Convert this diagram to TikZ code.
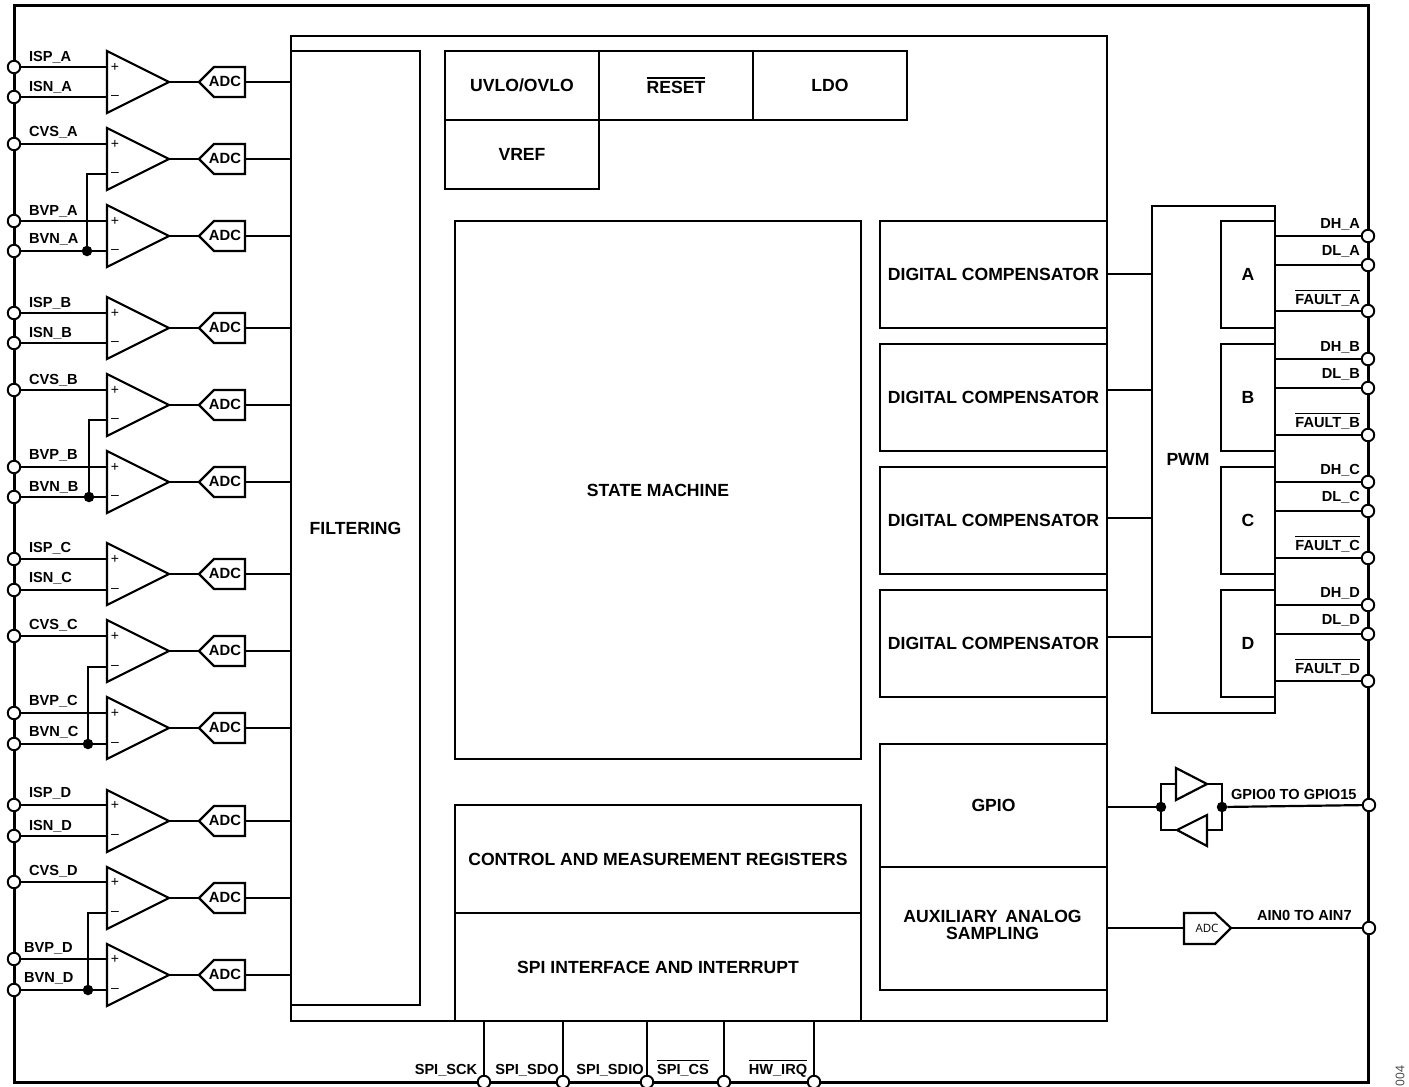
\documentclass[tikz,border=0pt]{standalone}
\usepackage{fontspec}
\setmainfont{Liberation Sans}
\newfontfamily\thinfont{Open Sans}
\newcommand{\ovl}[1]{\vbox{\hrule height 1.3pt\kern 2.6pt\hbox{#1}}}
\tikzset{
  every path/.style={line join=miter},
  framebox/.style={draw=black,line width=2.4pt,inner sep=0pt,outer sep=0pt},
  blockbox/.style={draw=black,line width=2.2pt,inner sep=0pt,outer sep=0pt,font=\fontsize{17.6}{17}\selectfont\bfseries,align=center},
  pin/.style={circle,draw=black,fill=white,line width=1.9pt,minimum size=12.5pt,inner sep=0pt,outer sep=0pt},
  dot/.style={circle,fill=black,draw=none,minimum size=10.5pt,inner sep=0pt,outer sep=0pt},
  sig/.style={font=\fontsize{14.6}{15}\selectfont\bfseries,inner sep=0pt,outer sep=0pt},
  adctext/.style={font=\fontsize{14.8}{15}\selectfont\bfseries,inner sep=0pt},
  sign/.style={font=\fontsize{14}{14}\selectfont,inner sep=0pt},
  wire/.style={draw=black,line width=2.2pt},
  thick frame/.style={draw=black,line width=3pt}
}
% \blockat{name}{x1}{y1}{x2}{y2}{text}
\newcommand{\blockat}[6]{\node[blockbox,minimum width={(#4-#2)*1pt},minimum height={(#5-#3)*1pt}] (#1) at ({(#2+#4)/2},{(#3+#5)/2}) {#6};}
% \amprow{id}{y}{plus y}{minus y}
\newcommand{\amprow}[4]{%
  \coordinate (#1p) at (107,#3);
  \coordinate (#1m) at (107,#4);
  \coordinate (#1t) at (169,#2);
  \coordinate (#1a) at (199,#2);
  \draw[wire,fill=white] (107,{#2-31}) -- (#1t) -- (107,{#2+31}) -- cycle;
  \node[sign] (#1plus) at (115,#3) {+};
  \node[sign] (#1minus) at (115,#4) {--};
  \draw[wire] (#1a) -- (214,{#2-15}) -- (245,{#2-15}) -- (245,{#2+15}) -- (214,{#2+15}) -- cycle;
  \node[adctext] (#1adc) at (225,{#2-1}) {ADC};
  \draw[wire] (#1t) -- (#1a);
  \draw[wire] (245,#2) -- (filter.west |- 0,#2);
}
\begin{document}
\begin{tikzpicture}[x=1pt,y=-1pt]
\useasboundingbox (0,0) rectangle (1409,1087);
\fill[white] (0,0) rectangle (1409,1087);

% frames
\node[framebox,thick frame,minimum width=1354pt,minimum height=1077pt] (outer) at (691,543.5) {};
\node[framebox,minimum width=816pt,minimum height=985pt] (core) at (699,528.5) {};

% blocks
\blockat{filter}{291}{51}{420}{1005}{FILTERING}
\blockat{uvlo}{445}{51}{599}{120}{UVLO/OVLO}
\blockat{reset}{599}{51}{753}{120}{\ovl{RESET}}
\blockat{ldo}{753}{51}{907}{120}{LDO}
\blockat{vref}{445}{120}{599}{189}{VREF}
\blockat{state}{455}{221}{861}{759}{STATE MACHINE}
\blockat{regs}{455}{805}{861}{913}{CONTROL AND MEASUREMENT REGISTERS}
\blockat{spi}{455}{913}{861}{1021}{SPI INTERFACE AND INTERRUPT}
\blockat{compa}{880}{221}{1107}{328}{DIGITAL COMPENSATOR}
\blockat{compb}{880}{344}{1107}{451}{DIGITAL COMPENSATOR}
\blockat{compc}{880}{467}{1107}{574}{DIGITAL COMPENSATOR}
\blockat{compd}{880}{590}{1107}{697}{DIGITAL COMPENSATOR}
\blockat{gpio}{880}{744}{1107}{867}{GPIO}
\blockat{aux}{880}{867}{1107}{990}{}
\node[font=\fontsize{17.6}{17.3}\selectfont\bfseries,align=center,inner sep=0pt] (auxtext) at (992.5,925) {AUXILIARY\, ANALOG\\SAMPLING};
\blockat{pwm}{1152}{206}{1275}{713}{}
\node[font=\fontsize{17.6}{17}\selectfont\bfseries,inner sep=0pt] (pwmtext) at (1188,459) {PWM};
\blockat{cha}{1221}{221}{1275}{328}{A}
\blockat{chb}{1221}{344}{1275}{451}{B}
\blockat{chc}{1221}{467}{1275}{574}{C}
\blockat{chd}{1221}{590}{1275}{697}{D}

% compensator to PWM
\draw[wire] (compa.east |- 0,274) -- (pwm.west |- 0,274);
\draw[wire] (compb.east |- 0,390) -- (pwm.west |- 0,390);
\draw[wire] (compc.east |- 0,518) -- (pwm.west |- 0,518);
\draw[wire] (compd.east |- 0,637) -- (pwm.west |- 0,637);

% amplifiers with ADC
\amprow{a1}{82}{67}{97}
\amprow{a2}{159}{144}{174}
\amprow{a3}{236}{221}{251}
\amprow{b1}{328}{313}{343}
\amprow{b2}{405}{390}{420}
\amprow{b3}{482}{467}{497}
\amprow{c1}{574}{559}{590}
\amprow{c2}{651}{636}{667}
\amprow{c3}{728}{713}{744}
\amprow{d1}{821}{805}{836}
\amprow{d2}{898}{882}{913}
\amprow{d3}{975}{959}{990}

% left pins: name/target/pin y/label x/baseline/text
\foreach \n/\t/\y/\lx/\b/\s in {
  ISPA/a1p/67/29/61/ISP\_A, ISNA/a1m/97/29/91/ISN\_A, CVSA/a2p/144/29/136/CVS\_A, BVPA/a3p/221/29/215/BVP\_A, BVNA/a3m/251/29/243/BVN\_A,
  ISPB/b1p/313/29/307/ISP\_B, ISNB/b1m/343/29/337/ISN\_B, CVSB/b2p/390/29/384/CVS\_B, BVPB/b3p/467/29/459/BVP\_B, BVNB/b3m/497/29/491/BVN\_B,
  ISPC/c1p/559/29/552/ISP\_C, ISNC/c1m/590/29/582/ISN\_C, CVSC/c2p/636/29/629/CVS\_C, BVPC/c3p/713/29/705/BVP\_C, BVNC/c3m/744/29/736/BVN\_C,
  ISPD/d1p/805/29/797/ISP\_D, ISND/d1m/836/29/830/ISN\_D, CVSD/d2p/882/29/875/CVS\_D, BVPD/d3p/959/24/952/BVP\_D, BVND/d3m/990/24/982/BVN\_D}{
  \node[pin] (pin\n) at (14,\y) {};
  \draw[wire] (pin\n) -- (\t);
  \node[sig,anchor=base west] (lab\n) at (\lx,\b) {\s};
}

% shared inverting input
\foreach \j/\x/\y/\t in {ja/87/251/a2m, jb/89/497/b2m, jc/88/744/c2m, jd/88/990/d2m}{
  \node[dot] (\j) at (\x,\y) {};
  \draw[wire] (\j) |- (\t);
}

% right pins
\foreach \n/\c/\y/\b/\s in {
  DHA/cha/236/228/DH\_A, DLA/cha/265/255/DL\_A, FLA/cha/311/304/\ovl{FAULT\_A},
  DHB/chb/359/351/DH\_B, DLB/chb/388/378/DL\_B, FLB/chb/435/427/\ovl{FAULT\_B},
  DHC/chc/482/474/DH\_C, DLC/chc/511/501/DL\_C, FLC/chc/558/550/\ovl{FAULT\_C},
  DHD/chd/605/597/DH\_D, DLD/chd/634/624/DL\_D, FLD/chd/681/673/\ovl{FAULT\_D}}{
  \node[pin] (pin\n) at (1368,\y) {};
  \draw[wire] (\c.east |- pin\n) -- (pin\n);
  \node[sig,anchor=base east] (lab\n) at (1360,\b) {\s};
}

% GPIO buffers
\node[dot] (gl) at (1161,807) {};
\node[dot] (gr) at (1222,807) {};
\node[pin] (pinGPIO) at (1369,805) {};
\coordinate (bufut) at (1207,784);
\coordinate (bufub) at (1176,784);
\coordinate (bufdt) at (1177,830);
\coordinate (bufdb) at (1207,830);
\draw[wire] (gl) |- (bufub);
\draw[wire] (bufut) -| (gr);
\draw[wire] (gr) |- (bufdb);
\draw[wire] (bufdt) -| (gl);
\draw[wire,fill=white] (bufub |- 0,768) -- (bufut) -- (bufub |- 0,800) -- cycle;
\draw[wire,fill=white] (bufdb |- 0,815) -- (bufdt) -- (bufdb |- 0,846) -- cycle;
\draw[wire] (gpio.east |- gl) -- (gl);
\draw[wire] (gr) -- (pinGPIO);
\node[sig,anchor=base west,font=\fontsize{14.6}{14}\selectfont\bfseries] (labGPIO) at (1231,799) {GPIO0 TO GPIO15};

% AIN
\node[pin] (pinAIN) at (1369,928) {};
\coordinate (adcin) at (1184,928);
\coordinate (adcout) at (1231,928);
\draw[wire] (adcin |- 0,913) -- (1215,913) -- (adcout) -- (1215,944) -- (adcin |- 0,944) -- cycle;
\node[font=\thinfont\fontsize{11.5}{12}\selectfont,inner sep=0pt] (adctxt) at (1207,928) {ADC};
\draw[wire] (aux.east |- adcin) -- (adcin);
\draw[wire] (adcout) -- (pinAIN);
\node[sig,anchor=base west,font=\fontsize{14.6}{14}\selectfont\bfseries] (labAIN) at (1257,920) {AIN0 TO AIN7};

% bottom pins
\foreach \n/\x/\lx/\s in {SCK/484/446/SPI\_SCK, SDO/563/527/SPI\_SDO, SDIO/647/610/SPI\_SDIO, CS/724/683/\ovl{SPI\_CS}, IRQ/814/778/\ovl{HW\_IRQ}}{
  \node[pin] (pin\n) at (\x,1082) {};
  \draw[wire] (pin\n |- core.south) -- (pin\n);
  \node[sig,anchor=base] (lab\n) at (\lx,1074) {\s};
}

\node[font=\thinfont\fontsize{12}{12}\selectfont,text=black!75,rotate=90,inner sep=0pt] (figno) at (1400,1076) {004};
\end{tikzpicture}
\end{document}
